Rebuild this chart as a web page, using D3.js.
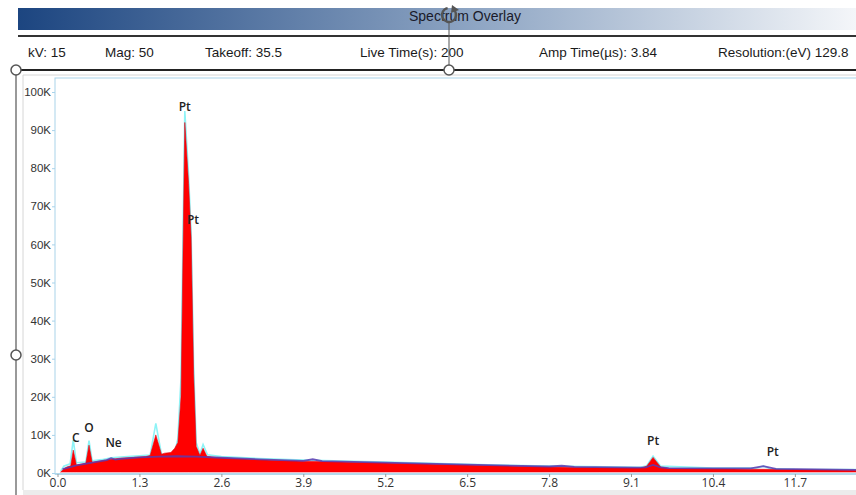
<!DOCTYPE html>
<html>
<head>
<meta charset="utf-8">
<script src="https://cdn.jsdelivr.net/npm/d3@7"></script>
<style>
body { margin: 0; background: #fff; }
text { font-family: "Liberation Sans", Arial, sans-serif; }
</style>
</head>
<body>
<script>
// header info
var infoLabels = ["kV: 15", "Mag: 50", "Takeoff: 35.5", "Live Time(s): 200", "Amp Time(\u00b5s): 3.84", "Resolution:(eV) 129.8"];
var infoX = [28, 105, 205, 360, 539, 718];

// spectrum, keV vs counts (K)
var redKeV =    [0.05, 0.1, 0.15, 0.21, 0.25, 0.3, 0.4, 0.45, 0.5, 0.55, 0.7, 0.85, 1.0, 1.2, 1.4, 1.47, 1.56, 1.65, 1.7, 1.8, 1.86, 1.91, 1.96, 2.02, 2.08, 2.12, 2.16, 2.2, 2.26, 2.31, 2.37, 2.5, 2.8, 3.2, 3.9, 4.5, 5.2, 6.5, 7.8, 8.6, 9.25, 9.35, 9.45, 9.57, 9.7, 10.4, 11.0, 11.7, 12.7];
var redCounts = [0.2, 1.1, 1.6, 1.9, 6.0, 2.1, 2.4, 2.6, 7.3, 2.8, 3.2, 3.6, 3.9, 4.1, 4.3, 4.6, 10.0, 4.9, 5.2, 5.4, 6.5, 8.0, 20, 92, 76, 62, 26, 7.0, 4.6, 6.5, 4.4, 4.1, 3.8, 3.5, 3.1, 2.9, 2.6, 2.1, 1.6, 1.4, 1.3, 1.8, 4.1, 1.6, 1.2, 1.1, 1.0, 0.9, 0.7];

var cyanKeV =    [0.05, 0.1, 0.2, 0.25, 0.3, 0.45, 0.5, 0.55, 0.7, 0.85, 1.0, 1.3, 1.47, 1.56, 1.65, 1.75, 1.85, 1.91, 1.96, 2.02, 2.08, 2.12, 2.16, 2.2, 2.26, 2.31, 2.38, 2.6, 3.2, 3.9, 5.2, 6.5, 7.8, 9.25, 9.35, 9.45, 9.57, 10.4, 11.1, 11.2, 11.3, 11.7, 12.7];
var cyanCounts = [0.5, 1.8, 2.4, 8.7, 2.7, 2.9, 8.5, 3.2, 3.5, 4.0, 4.2, 4.5, 4.7, 13.0, 4.9, 4.5, 4.6, 9.0, 25, 95, 78, 63, 28, 8.0, 5.0, 7.5, 4.8, 4.3, 3.8, 3.4, 2.9, 2.3, 1.8, 1.5, 1.9, 4.4, 1.8, 1.3, 1.3, 1.8, 1.2, 1.0, 0.9];

var bgKeV =    [0.08, 0.3, 0.5, 0.78, 0.85, 0.92, 1.0, 1.3, 1.6, 1.9, 2.2, 2.6, 3.2, 3.9, 4.05, 4.2, 5.2, 6.5, 7.8, 8.0, 8.2, 9.2, 9.33, 9.45, 9.57, 9.7, 10.4, 11.0, 11.2, 11.4, 12.7];
var bgCounts = [1.0, 2.0, 2.6, 3.4, 3.9, 3.5, 3.7, 4.1, 4.3, 4.4, 4.3, 4.0, 3.6, 3.2, 3.6, 3.1, 2.7, 2.2, 1.7, 1.9, 1.6, 1.4, 1.5, 2.1, 1.5, 1.3, 1.2, 1.2, 1.8, 1.1, 0.8];

// element labels
var peakNames =  ["C", "O", "Ne", "Pt", "Pt", "Pt", "Pt"];
var peakKeV =    [0.29, 0.5, 0.89, 2.02, 2.15, 9.45, 11.35];
var peakCounts = [9.2, 11.8, 7.9, 96, 66.4, 8.4, 5.5];

var xTicks = [0.0, 1.3, 2.6, 3.9, 5.2, 6.5, 7.8, 9.1, 10.4, 11.7];
var yTicks = [0, 10, 20, 30, 40, 50, 60, 70, 80, 90, 100];

var W = 856, H = 495;
var svg = d3.select("body").append("svg").attr("width", W).attr("height", H);

// title bar
var grad = svg.append("defs").append("linearGradient").attr("id", "bar");
grad.append("stop").attr("offset", "0%").attr("stop-color", "#1c4580");
grad.append("stop").attr("offset", "55%").attr("stop-color", "#8fa6c4");
grad.append("stop").attr("offset", "100%").attr("stop-color", "#f4f6f9");
svg.append("rect").attr("x", 18).attr("y", 8).attr("width", W - 18).attr("height", 22).attr("fill", "url(#bar)");
svg.append("text").attr("x", 465).attr("y", 21).attr("text-anchor", "middle")
    .attr("font-size", 14).attr("fill", "#1a1a2a").text("Spectrum Overlay");

// header lines
svg.append("line").attr("x1", 18).attr("x2", W).attr("y1", 36).attr("y2", 36).attr("stroke", "#333").attr("stroke-width", 2);
svg.selectAll(".info").data(infoLabels).enter().append("text")
    .attr("x", function(d, i){ return infoX[i]; })
    .attr("y", 57)
    .attr("font-size", 13.5)
    .attr("fill", "#1a1a1a")
    .text(function(d){ return d; });

// panel borders
svg.append("line").attr("x1", 23).attr("x2", W).attr("y1", 75).attr("y2", 75).attr("stroke", "#d6d6d6");
svg.append("line").attr("x1", 23).attr("x2", 23).attr("y1", 75).attr("y2", 490).attr("stroke", "#d6d6d6");
svg.append("rect").attr("x", 23).attr("y", 490).attr("width", W - 23).attr("height", 5).attr("fill", "#ececec");

var x = d3.scaleLinear().domain([0, 12.67]).range([57.5, 856]);
var y = d3.scaleLinear().domain([0, 100]).range([473, 92]);

var plotLeft = 55, plotTop = 78;

svg.append("clipPath").attr("id", "clip").append("rect")
    .attr("x", plotLeft).attr("y", plotTop).attr("width", W - plotLeft).attr("height", y(0) - plotTop + 1);

// plot border
svg.append("rect").attr("x", plotLeft).attr("y", plotTop).attr("width", W - plotLeft + 5).attr("height", y(0) - plotTop + 1)
    .attr("fill", "none").attr("stroke", "#a9d3ea");

var g = svg.append("g").attr("clip-path", "url(#clip)");

var red = redKeV.map(function(d, i){ return [d, redCounts[i]]; });
var cyan = cyanKeV.map(function(d, i){ return [d, cyanCounts[i]]; });
var bg = bgKeV.map(function(d, i){ return [d, bgCounts[i]]; });

var area = d3.area()
    .x(function(d){ return x(d[0]); })
    .y0(y(0) - 1)
    .y1(function(d){ return y(d[1]); });
var line = d3.line()
    .x(function(d){ return x(d[0]); })
    .y(function(d){ return y(d[1]); });

g.append("path").datum(cyan).attr("d", line).attr("fill", "none").attr("stroke", "#8ef3f6").attr("stroke-width", 1.6);
g.append("path").datum(red).attr("d", area).attr("fill", "#ff0000").attr("stroke", "#e00010").attr("stroke-width", 0.6);
g.append("path").datum(bg).attr("d", line).attr("fill", "none").attr("stroke", "#5b3bb0").attr("stroke-width", 1.8).attr("stroke-opacity", 0.85);

// axes
svg.append("line").attr("x1", plotLeft).attr("x2", W).attr("y1", y(0) + 1).attr("y2", y(0) + 1).attr("stroke", "#a9d3ea").attr("stroke-width", 1.5);

var yAxis = d3.axisLeft(y).tickValues(yTicks).tickSize(3).tickFormat(function(d){ return d + "K"; });
var ya = svg.append("g").attr("transform", "translate(" + plotLeft + ",0)").call(yAxis);
ya.select(".domain").remove();
ya.selectAll("line").attr("stroke", "#a9d3ea");
ya.selectAll("text").attr("font-size", 11.5).attr("fill", "#333").attr("dx", 2)
    .style("font-family", "'Liberation Sans', Arial, sans-serif");

var xAxis = d3.axisBottom(x).tickValues(xTicks).tickSize(3).tickFormat(d3.format(".1f"));
var xa = svg.append("g").attr("transform", "translate(0," + (y(0) + 1) + ")").call(xAxis);
xa.select(".domain").remove();
xa.selectAll("line").attr("stroke", "#999");
xa.selectAll("text").attr("font-size", 12).attr("fill", "#333").attr("dy", "0.55em")
    .style("font-family", "'Open Sans', sans-serif");

// peak labels
svg.selectAll(".peak").data(peakNames).enter().append("text")
    .attr("x", function(d, i){ return x(peakKeV[i]); })
    .attr("y", function(d, i){ return y(peakCounts[i]); })
    .attr("dy", "0.35em")
    .attr("text-anchor", "middle")
    .attr("font-size", 12)
    .attr("font-weight", 600)
    .attr("fill", "#222")
    .style("font-family", "'Open Sans', sans-serif")
    .text(function(d){ return d; });

// selection handles
var hc = "#555";
svg.append("line").attr("x1", 16).attr("x2", W).attr("y1", 70).attr("y2", 70).attr("stroke", "#222").attr("stroke-width", 2);
svg.append("line").attr("x1", 16).attr("x2", 16).attr("y1", 70).attr("y2", H).attr("stroke", hc).attr("stroke-width", 1.2);
svg.append("line").attr("x1", 449).attr("x2", 449).attr("y1", 22).attr("y2", 70).attr("stroke", hc).attr("stroke-width", 1);
[[16, 70], [449, 70], [16, 355]].forEach(function(p){
    svg.append("circle").attr("cx", p[0]).attr("cy", p[1]).attr("r", 5)
        .attr("fill", "#fff").attr("stroke", hc).attr("stroke-width", 1.5);
});
// rotate handle
svg.append("path")
    .attr("d", d3.arc()({innerRadius: 7, outerRadius: 7, startAngle: 0.7, endAngle: 2 * Math.PI - 0.2}))
    .attr("transform", "translate(449,15)")
    .attr("fill", "none").attr("stroke", hc).attr("stroke-width", 2.4);
svg.append("path").attr("d", "M452,5 L459,10 L451,13 Z").attr("fill", hc);
</script>
</body>
</html>
